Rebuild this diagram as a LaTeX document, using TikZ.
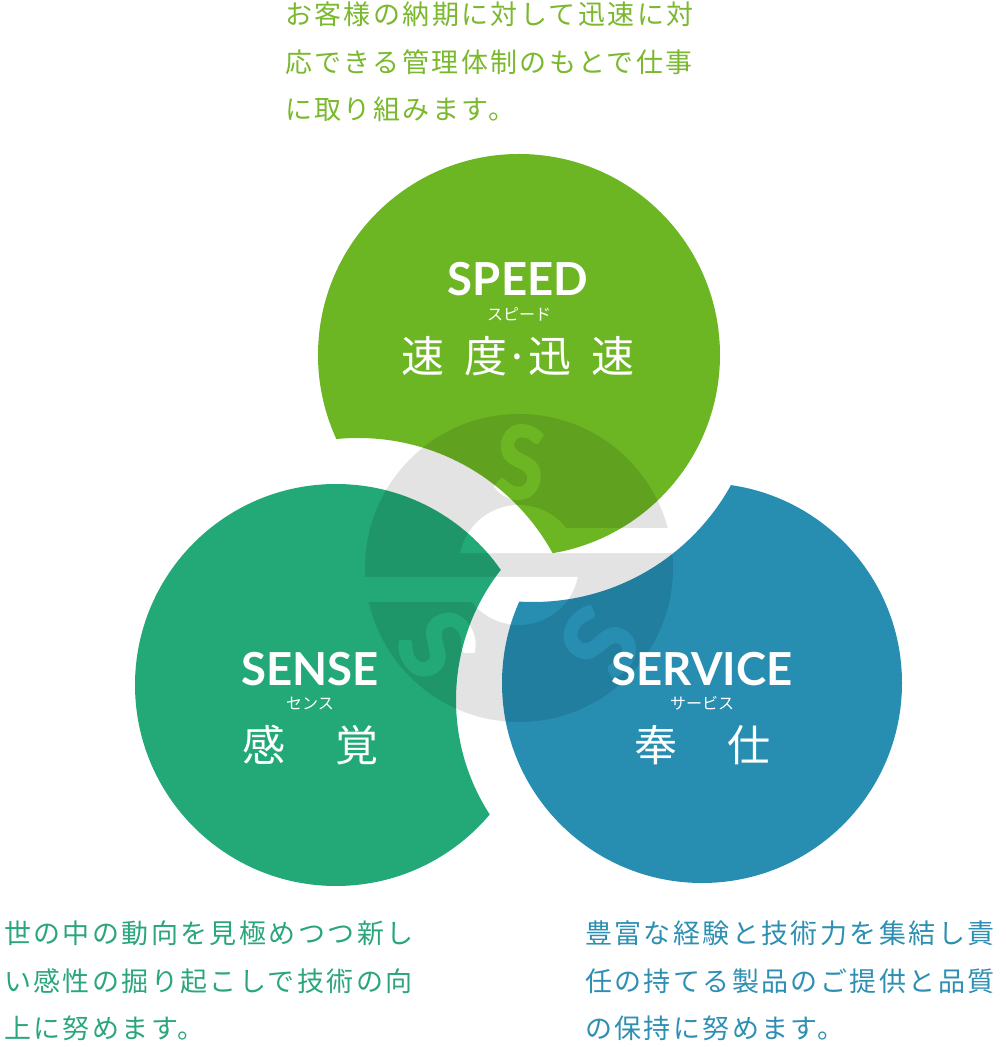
\documentclass[tikz,border=0pt]{standalone}
\usepackage{fontspec}
\newfontfamily\jpfont{Noto Sans CJK JP}
\newfontfamily\bodyfont[LetterSpace=8.9]{Noto Sans CJK JP}
\newfontfamily\titlefont{Lato}
\newfontfamily\logofont[BoldFeatures={FakeBold=2.5}]{Lato}
\definecolor{speedgreen}{HTML}{6CB523}
\definecolor{sensegreen}{HTML}{23A977}
\definecolor{serviceblue}{HTML}{278EB2}
\definecolor{speedtext}{HTML}{7AB82E}
\definecolor{sensetext}{HTML}{2BA67B}
\definecolor{servicetext}{HTML}{2E8FB2}
\definecolor{logogray}{HTML}{E3E3E3}
\tikzset{
    bodytext/.style={anchor=west,align=left,inner sep=0pt,font=\bodyfont\fontsize{27}{47.5}\selectfont},
    titletext/.style={anchor=base,white,inner sep=0pt,font=\titlefont\bfseries\fontsize{45.5}{47}\selectfont},
    kanatext/.style={anchor=base,white,inner sep=0pt,font=\jpfont\fontsize{16}{16}\selectfont},
    kanjitext/.style={anchor=base,white,inner sep=0pt,font=\jpfont\fontsize{43}{43}\selectfont},
    logoletter/.style={white,inner sep=0pt,font=\logofont\bfseries\fontsize{100}{100}\selectfont}
}

\begin{document}
\begin{tikzpicture}[x=1pt,y=1pt]
    \useasboundingbox (0,0) rectangle (1005,1047);

    % Draw the three discs, each one bitten by a larger circle.
    \foreach \cx/\cy/\r/\bx/\by/\br/\col in {519/692/201/358/387/222/speedgreen,
        336/362/201/667/347/211/sensegreen,702/364/200/533/671/226/serviceblue}
    {
        \begin{scope}[even odd rule]
            \clip (0,0) rectangle (1005,1047) (\bx,\by) circle (\br);
            \fill[\col] (\cx,\cy) circle (\r);
        \end{scope}
    }

    % Draw the logo over the discs.
    \begin{scope}[transparency group,blend mode=multiply]
        \fill[logogray] (519,479) circle (154);
        \fill[white] (519,482) ++(168.5:60) arc [start angle=168.5,end angle=38,radius=60]
            -- (700,519) -- (700,494) -- cycle;
        \fill[white] (519,482) ++(-11.5:60) arc [start angle=-11.5,end angle=-142,radius=60]
            -- (340,445) -- (340,470) -- cycle;
        \node[logoletter,xscale=.88,rotate=-6] (letterspeed) at (520,585) {S};
        \node[logoletter,rotate=122] (lettersense) at (437,402) {S};
        \node[logoletter,rotate=-122] (letterservice) at (600,405) {S};
    \end{scope}

    % Labels inside the discs.
    \node[titletext] (speedtitle) at (518,751) {SPEED};
    \node[kanatext] (speedkana) at (519,726) {スピード};
    \node[kanjitext] (speedkanji) at (518,674) {速\hspace{20.5pt}度\makebox[20.5pt]{·}迅\hspace{20.5pt}速};

    \node[titletext] (sensetitle) at (310,361) {SENSE};
    \node[kanatext] (sensekana) at (310,337) {センス};
    \node[kanjitext] (sensekanji) at (310.5,285) {感\hspace{50pt}覚};

    \node[titletext] (servicetitle) at (702,361) {SERVICE};
    \node[kanatext] (servicekana) at (702,337) {サービス};
    \node[kanjitext] (servicekanji) at (702.5,285) {奉\hspace{50pt}仕};

    % Texts around the discs.
    \node[bodytext,text=speedtext] (speedbody) at (285,985)
        {お客様の納期に対して迅速に対\\応できる管理体制のもとで仕事\\に取り組みます。};
    \node[bodytext,text=sensetext] (sensebody) at (4,66)
        {世の中の動向を見極めつつ新し\\い感性の掘り起こしで技術の向\\上に努めます。};
    \node[bodytext,text=servicetext] (servicebody) at (585,66)
        {豊富な経験と技術力を集結し責\\任の持てる製品のご提供と品質\\の保持に努めます。};
\end{tikzpicture}
\end{document}
